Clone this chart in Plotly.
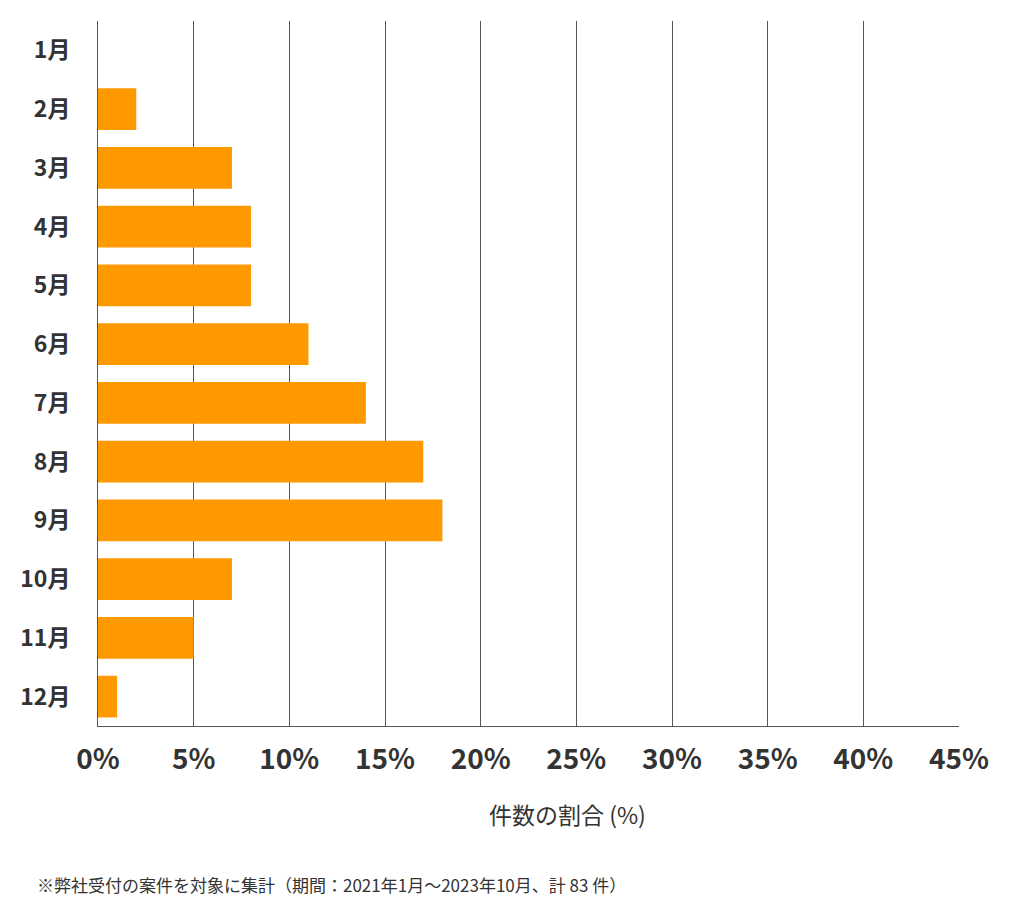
import plotly.graph_objects as go

months = ["1月", "2月", "3月", "4月", "5月", "6月", "7月", "8月", "9月", "10月", "11月", "12月"]
shares = [0, 2.0, 7.0, 8.0, 8.0, 11.0, 14.0, 17.0, 18.0, 7.0, 5.0, 1.0]
tick_vals = [0, 5, 10, 15, 20, 25, 30, 35, 40, 45]
tick_text = [f"{v}%" for v in tick_vals]

font = "Noto Sans CJK JP"

fig = go.Figure()
fig.add_trace(go.Bar(x=shares, y=months, orientation="h",
                     marker=dict(color="#FF9900", line=dict(width=0))))

fig.update_layout(
    width=1024, height=905,
    margin=dict(l=90, r=73, t=13, b=187),
    plot_bgcolor="white", paper_bgcolor="white",
    bargap=0.29, showlegend=False,
    font=dict(family=font, color="#333333"),
    xaxis=dict(range=[0, 45], tickvals=tick_vals, ticktext=tick_text,
               showgrid=True, gridcolor="#555555", gridwidth=1,
               showline=True, linecolor="#555555", zeroline=False,
               tickfont=dict(size=28, family=font, weight="bold"), ticks="",
               ticklabelstandoff=8, fixedrange=True),
    yaxis=dict(categoryorder="array", categoryarray=months, autorange="reversed",
               showline=True, linecolor="#555555", showgrid=False,
               tickfont=dict(size=23, family=font, weight="bold"), ticks="",
               ticklabelstandoff=22, fixedrange=True),
    annotations=[
        dict(xref="paper", yref="paper", x=0.545, y=-0.125, xanchor="center", yanchor="middle",
             text="件数の割合 (%)", showarrow=False, font=dict(size=23, family=font, color="#333333")),
        dict(xref="paper", yref="paper", x=-0.073, y=-0.225, xanchor="left", yanchor="middle",
             text="※弊社受付の案件を対象に集計（期間：2021年1月～2023年10月、計 83 件）",
             showarrow=False, font=dict(size=17, family=font, color="#333333")),
    ],
)

fig.write_html("out.html")
